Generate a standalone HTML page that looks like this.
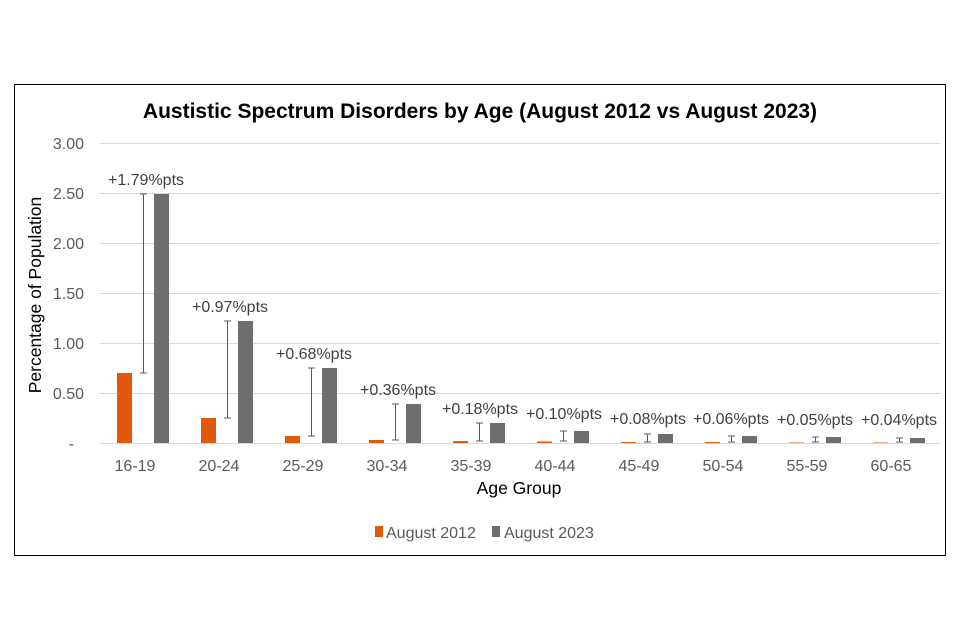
<!DOCTYPE html>
<html><head><style>body{margin:0;background:#fff}svg{display:block;font-family:"Liberation Sans",Arial,sans-serif}</style></head><body>
<svg width="960" height="640" viewBox="0 0 960 640">
<rect x="14.5" y="84.5" width="931" height="471" fill="#fff" stroke="#000" stroke-width="1"/>
<text x="480" y="118" text-anchor="middle" font-size="21" font-weight="bold" fill="#000">Austistic Spectrum Disorders by Age (August 2012 vs August 2023)</text>
<g stroke="#d9d9d9" stroke-width="1">
<line x1="100" x2="940" y1="143.5" y2="143.5"/><line x1="100" x2="940" y1="193.5" y2="193.5"/><line x1="100" x2="940" y1="243.5" y2="243.5"/><line x1="100" x2="940" y1="293.5" y2="293.5"/><line x1="100" x2="940" y1="343.5" y2="343.5"/><line x1="100" x2="940" y1="393.5" y2="393.5"/><line x1="100" x2="940" y1="443.5" y2="443.5"/>
</g>
<g font-size="16" fill="#595959" text-anchor="end">
<text x="84" y="149">3.00</text><text x="84" y="199">2.50</text><text x="84" y="249">2.00</text><text x="84" y="299">1.50</text><text x="84" y="349">1.00</text><text x="84" y="399">0.50</text><text x="74" y="449">-</text>
</g>
<text transform="translate(41,295) rotate(-90)" text-anchor="middle" font-size="17.5" fill="#000">Percentage of  Population</text>
<text x="519" y="494" text-anchor="middle" font-size="17.5" fill="#000">Age Group</text>
<g fill="#e15a0c">
<rect x="117" y="373" width="15" height="70"/><rect x="201" y="418" width="15" height="25"/><rect x="285" y="436" width="15" height="7"/><rect x="369" y="440" width="15" height="3"/><rect x="453" y="441" width="15" height="2"/><rect x="537" y="441.5" width="15" height="1.5"/><rect x="621" y="442" width="15" height="1"/><rect x="705" y="442" width="15" height="1"/><rect x="789" y="442.5" width="15" height="0.5"/><rect x="873" y="442.5" width="15" height="0.5"/>
</g>
<g fill="#6d6e70">
<rect x="154" y="194" width="15" height="249"/><rect x="238" y="321" width="15" height="122"/><rect x="322" y="368" width="15" height="75"/><rect x="406" y="404" width="15" height="39"/><rect x="490" y="423" width="15" height="20"/><rect x="574" y="431" width="15" height="12"/><rect x="658" y="434" width="15" height="9"/><rect x="742" y="436" width="15" height="7"/><rect x="826" y="437" width="15" height="6"/><rect x="910" y="438" width="15" height="5"/>
</g>
<g stroke="#595959" stroke-width="1" fill="none">
<path d="M143.5 194V373M140 194h7M140 373h7"/>
<path d="M227.5 321V418M224 321h7M224 418h7"/>
<path d="M311.5 368V436M308 368h7M308 436h7"/>
<path d="M395.5 404V440M392 404h7M392 440h7"/>
<path d="M479.5 423V441M476 423h7M476 441h7"/>
<path d="M563.5 431V441M560 431h7M560 441h7"/>
<path d="M647.5 434V442M644 434h7M644 442h7"/>
<path d="M731.5 436V442M728 436h7M728 442h7"/>
<path d="M815.5 437V442M812 437h7M812 442h7"/>
<path d="M899.5 438V442M896 438h7M896 442h7"/>
</g>
<g font-size="16" fill="#404040" text-anchor="middle">
<text x="146" y="185">+1.79%pts</text><text x="230" y="312">+0.97%pts</text><text x="314" y="359">+0.68%pts</text><text x="398" y="395">+0.36%pts</text><text x="480" y="414">+0.18%pts</text><text x="564" y="419">+0.10%pts</text><text x="648" y="424">+0.08%pts</text><text x="731" y="424">+0.06%pts</text><text x="815" y="425">+0.05%pts</text><text x="899" y="425">+0.04%pts</text>
</g>
<g font-size="16" fill="#595959" text-anchor="middle">
<text x="135" y="471">16-19</text><text x="219" y="471">20-24</text><text x="303" y="471">25-29</text><text x="387" y="471">30-34</text><text x="471" y="471">35-39</text><text x="555" y="471">40-44</text><text x="639" y="471">45-49</text><text x="723" y="471">50-54</text><text x="807" y="471">55-59</text><text x="891" y="471">60-65</text>
</g>
<rect x="375" y="526" width="8" height="11" fill="#e15a0c"/><text x="386" y="538" font-size="16" fill="#595959">August 2012</text>
<rect x="492" y="526" width="8" height="11" fill="#6d6e70"/><text x="504" y="538" font-size="16" fill="#595959">August 2023</text>
</svg></body></html>
